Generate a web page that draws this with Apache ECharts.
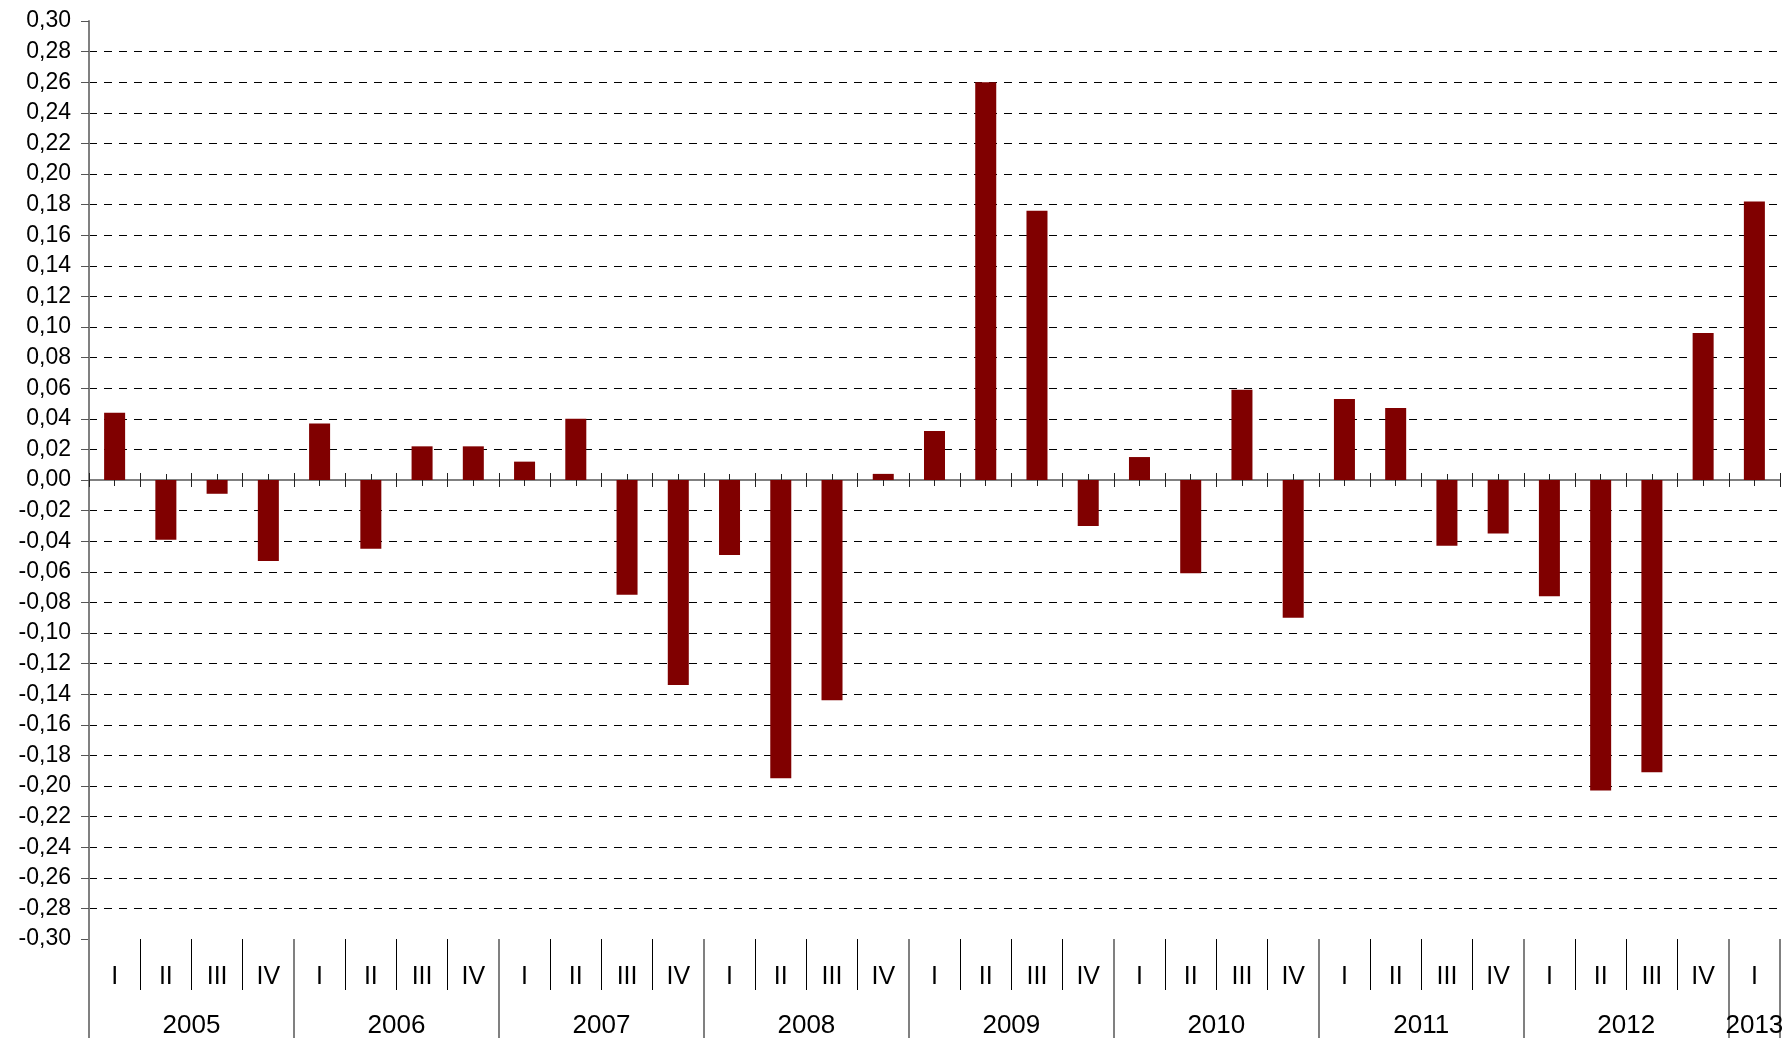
<!DOCTYPE html>
<html>
<head>
<meta charset="utf-8">
<script src="https://cdn.jsdelivr.net/npm/echarts@6/dist/echarts.min.js"></script>
<style>
  html, body { margin: 0; padding: 0; background: #fff; }
  #chart { width: 1785px; height: 1038px; }
</style>
</head>
<body>
<div id="chart"></div>
<script>
// quarterly change, 2005 I - 2013 I
var years = ['2005', '2006', '2007', '2008', '2009', '2010', '2011', '2012', '2013'];
var quartersInYear = [4, 4, 4, 4, 4, 4, 4, 4, 1];
var quarterNames = ['I', 'II', 'III', 'IV'];
var values = [
  0.044, -0.039, -0.009, -0.053,
  0.037, -0.045, 0.022, 0.022,
  0.012, 0.040, -0.075, -0.134,
  -0.049, -0.195, -0.144, 0.004,
  0.032, 0.260, 0.176, -0.030,
  0.015, -0.061, 0.059, -0.090,
  0.053, 0.047, -0.043, -0.035,
  -0.076, -0.203, -0.191, 0.096,
  0.182
];
var yMin = -0.30, yMax = 0.30, yStep = 0.02;

(function () {
  var font = 'Liberation Sans, Arial, sans-serif';
  var bar = '#800000';
  var gray = '#808080';

  // one category per quarter
  var quarters = [];
  years.forEach(function (y, i) {
    for (var q = 0; q < quartersInYear[i]; q++) quarters.push(quarterNames[q]);
  });

  // half-quarter slots for the year row: year name sits in the middle of its quarters
  var yearSlots = [];
  var yearEdges = {};
  years.forEach(function (y, i) {
    var n = quartersInYear[i];
    yearEdges[yearSlots.length] = true;
    for (var s = 0; s < 2 * n; s++) yearSlots.push(s === n ? y : '');
  });
  yearEdges[yearSlots.length] = true;
  yearSlots.push('');

  // ticks at the zero line cross it, so they need an outward and an inward axis each;
  // every one of them sits on zero of its own (hidden) y axis
  function zeroAxis(yIdx, inside, centered, len) {
    return {
      type: 'category',
      data: quarters,
      position: 'bottom',
      axisLine: { show: true, onZero: true, onZeroAxisIndex: yIdx, lineStyle: { color: gray, width: 2 } },
      axisTick: { show: true, interval: 0, inside: inside, alignWithLabel: centered, length: len,
        lineStyle: { color: '#222', width: 1 } },
      axisLabel: { show: false },
      splitLine: { show: false }
    };
  }

  function hiddenY() {
    return { type: 'value', min: yMin, max: yMax, interval: yStep, show: false, splitLine: { show: false } };
  }

  var chart = echarts.init(document.getElementById('chart'), null, { renderer: 'canvas' });
  chart.setOption({
    animation: false,
    backgroundColor: '#fff',
    grid: { left: 89, right: 5, top: 21, bottom: 99, outerBoundsMode: 'none', containLabel: false },
    xAxis: [
      zeroAxis(0, false, false, 7),
      zeroAxis(1, true, false, 7),
      zeroAxis(2, false, true, 6),
      zeroAxis(3, true, true, 6),
      {
        // quarter names below the plot
        type: 'category',
        data: quarters,
        position: 'bottom',
        axisLine: { show: false, onZero: false },
        axisTick: { show: true, interval: 0, length: 51, lineStyle: { color: '#000', width: 1 } },
        axisLabel: { show: true, interval: 0, margin: 26, color: '#000', fontSize: 25, fontFamily: font },
        splitLine: { show: false }
      },
      {
        // years
        type: 'category',
        data: yearSlots,
        boundaryGap: false,
        position: 'bottom',
        axisLine: { show: false, onZero: false },
        axisTick: { show: true, length: 100, lineStyle: { color: gray, width: 2 },
          interval: function (idx) { return !!yearEdges[idx]; } },
        axisLabel: { show: true, margin: 74, color: '#000', fontSize: 26, fontFamily: font,
          interval: function (idx, val) { return val !== ''; } },
        splitLine: { show: false }
      }
    ],
    yAxis: [
      {
        type: 'value',
        min: yMin,
        max: yMax,
        interval: yStep,
        axisLine: { show: true, lineStyle: { color: gray, width: 2 } },
        axisTick: { show: true, length: 8, lineStyle: { color: '#555', width: 1 } },
        axisLabel: {
          color: '#000', fontSize: 23, fontFamily: font, margin: 18,
          formatter: function (v) {
            if (Math.abs(v) < 1e-9) v = 0;
            return v.toFixed(2).replace('.', ',');
          }
        },
        splitLine: { show: true, showMinLine: false, showMaxLine: false,
          lineStyle: { color: '#000', width: 1, type: [8, 7] } }
      },
      hiddenY(), hiddenY(), hiddenY()
    ],
    series: [{
      type: 'bar',
      xAxisIndex: 0,
      yAxisIndex: 0,
      data: values,
      barWidth: '41%',
      itemStyle: { color: bar },
      z: 1
    }]
  });

  window.addEventListener('resize', function () { chart.resize(); });
})();
</script>
</body>
</html>
